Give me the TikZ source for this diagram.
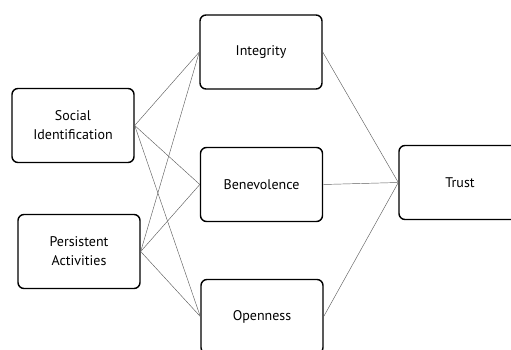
\documentclass[tikz,border=0pt]{standalone}
\usepackage{fontspec}
\setmainfont{PT Sans}
\usepackage{tikz}
\usetikzlibrary{positioning}

\tikzset{
  factor/.style={draw=black, line width=1.4pt, rounded corners=6pt, minimum width=122pt, minimum height=74pt, align=center, font=\fontsize{14}{19}\selectfont},
  link/.style={draw=gray!75!black, line width=0.45pt}
}

\begin{document}
\begin{tikzpicture}[x=1pt,y=-1pt]
\useasboundingbox (0,0) rectangle (511,350);
\clip (0,0) rectangle (511,350);

% antecedents
\node[factor] (soc) at (73,125.5) {Social\\Identification};
\node[factor] (per) at (79,251.5) {Persistent\\Activities};

% trust dimensions
\node[factor] (integ) at (261,52) {Integrity};
\node[factor] (benev) at (261.5,184.5) {Benevolence};
\node[factor] (open) at (262,316.5) {Openness};

% outcome
\node[factor] (trust) at (460,182.5) {Trust};

\foreach \a in {soc, per} {
  \foreach \b in {integ, benev, open} {
    \draw[link] (\a.east) -- (\b.west);
  }
}
\foreach \b in {integ, benev, open} {
  \draw[link] (\b.east) -- (trust.west);
}
\end{tikzpicture}
\end{document}
